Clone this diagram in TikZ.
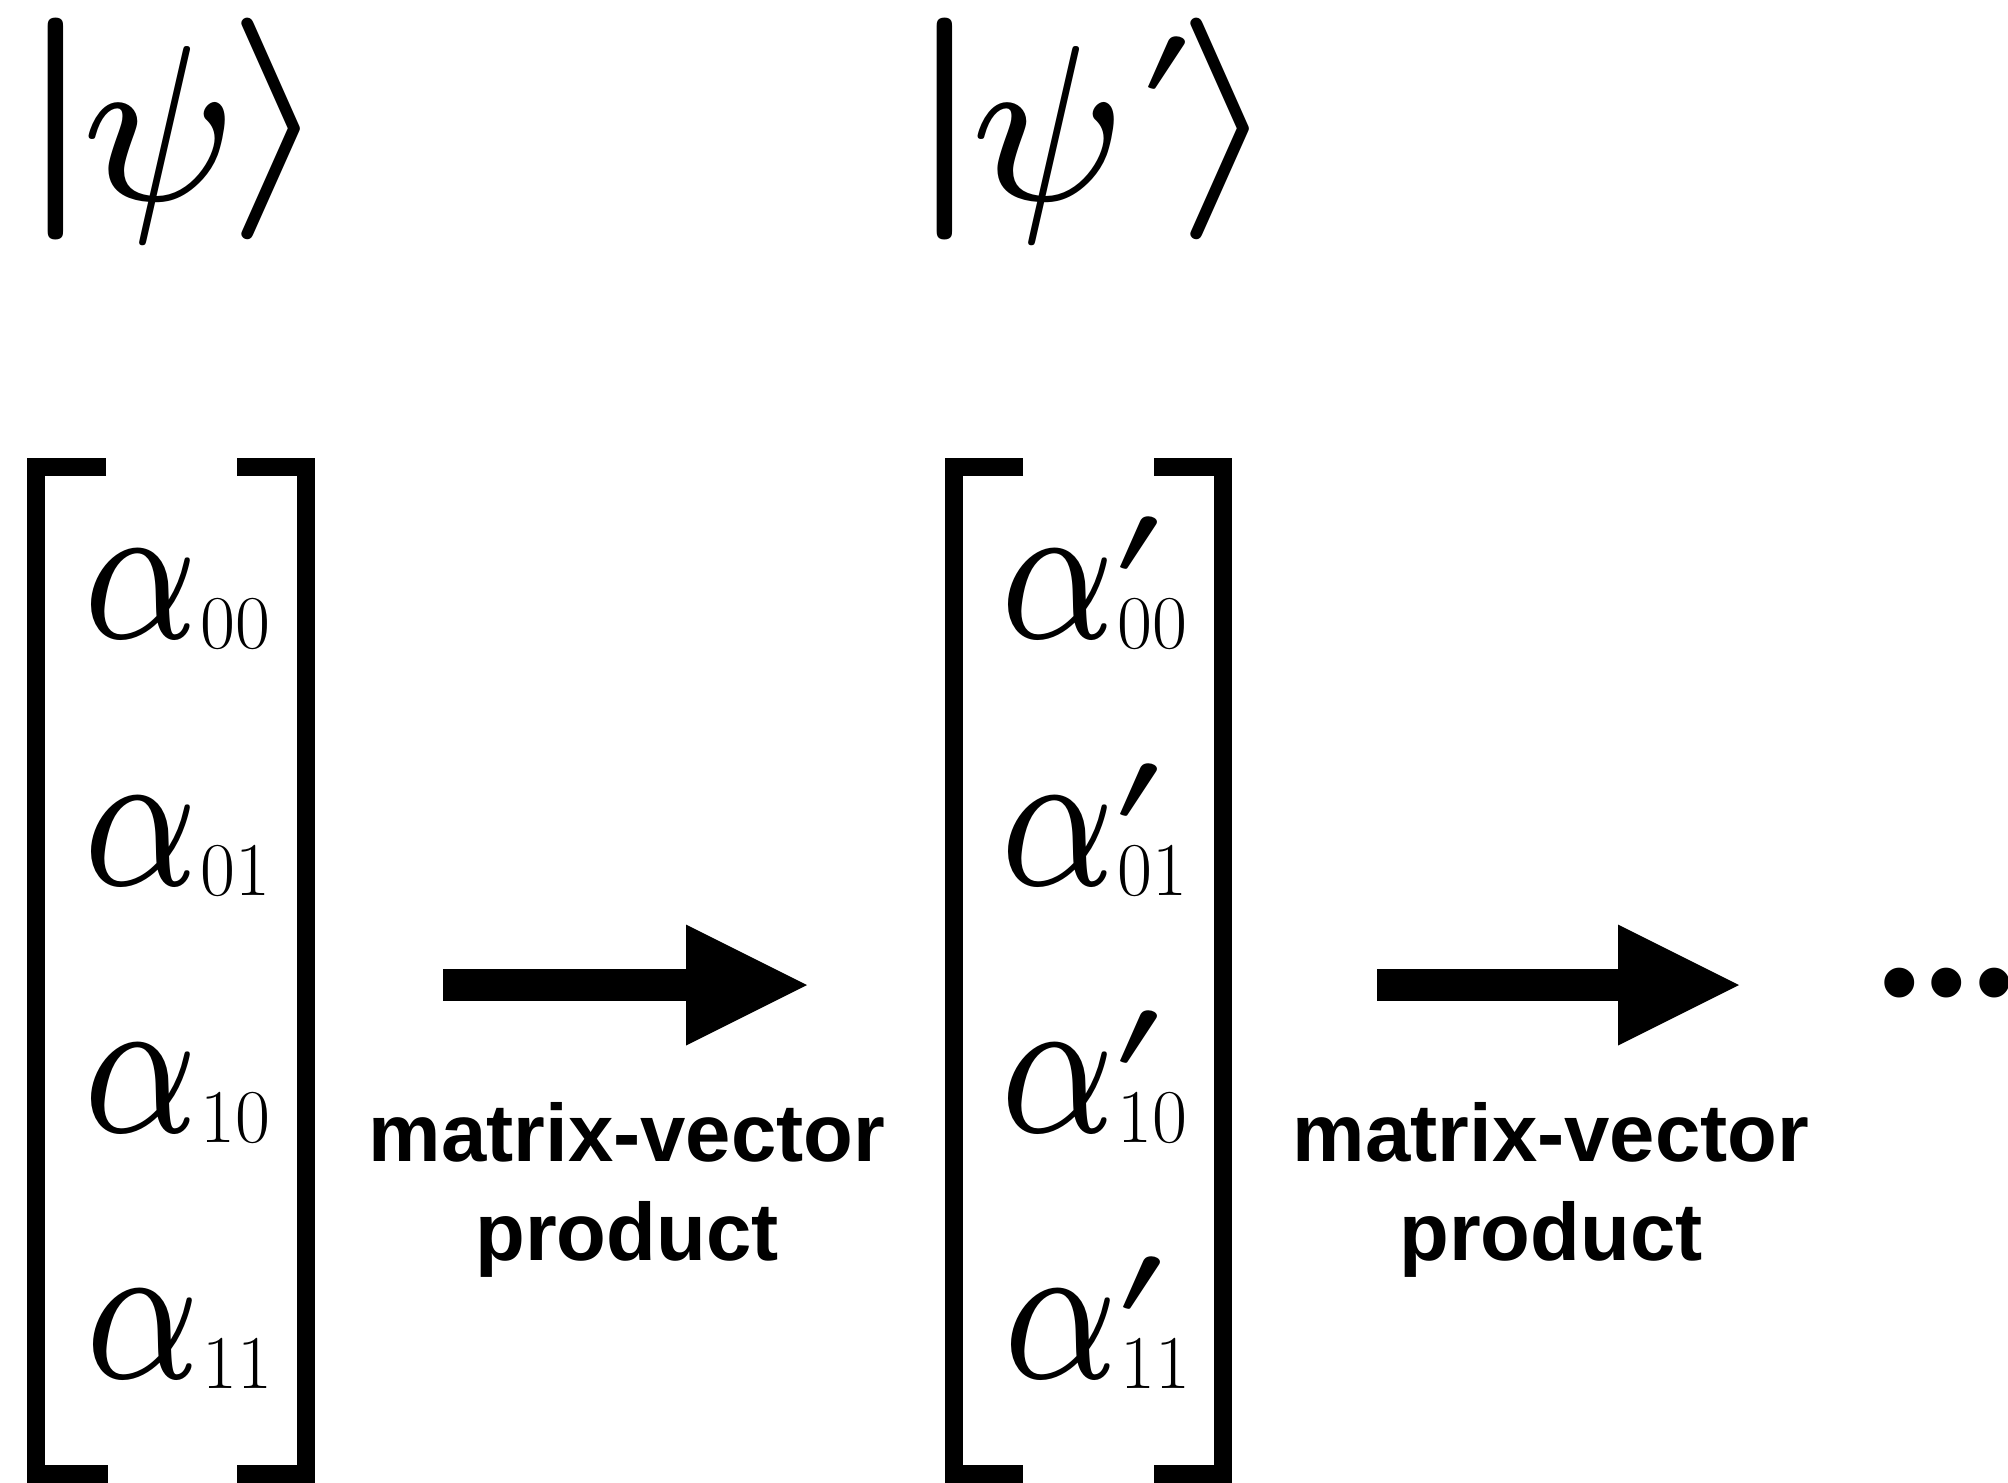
\documentclass[tikz,border=0pt]{standalone}
\usepackage{fontspec}
\usepackage{graphicx}
\newfontfamily\lsans{Liberation Sans}
\usetikzlibrary{arrows.meta}
% math glyph at 7pt design size, scaled (xs, ys)
\newcommand\M[3]{\scalebox{#1}[#2]{\fontsize{7}{8}\selectfont$#3$}}
\newcommand\asub{\fontsize{76}{76}\selectfont\rmfamily}
\newcommand\primesym{\M{21}{14.5}{\prime}}
\newcommand\alphasym{\M{23}{29.3}{\alpha}}
\newcommand\entA[1]{\alphasym\raisebox{-10pt}{\asub #1}}
\newcommand\entB[1]{\alphasym\rlap{\kern-4pt\raisebox{65pt}{\primesym}}\raisebox{-10pt}{\asub #1}}
\newcommand\kbar{\M{45}{31.7}{|}}
\newcommand\kpsi{\raisebox{-17pt}{\M{29}{31.7}{\psi}}}
\newcommand\kang{\M{34}{31.7}{\rangle}}
\begin{document}
\begin{tikzpicture}[x=1pt,y=-1pt,
  brk/.style={line width=18pt, line join=miter, line cap=butt},
  blockarrow/.style={line width=32pt, -{Triangle[length=121pt,width=121pt,line width=0pt]}},
  lbl/.style={font=\lsans\bfseries\fontsize{81.5}{99}\selectfont, align=center, inner sep=0pt},
  ent/.style={anchor=base west, inner sep=0pt},
]
\useasboundingbox (0,0) rectangle (2008,1483);
% kets
\node[ent] (ket1) at (2,184) {\kbar\kern-29.5pt\kpsi\kern-17pt\kang};
\node[ent] (ket2) at (891,184) {\kbar\kern-29.5pt\kpsi\kern12.5pt\raisebox{90pt}{\primesym}\kern-18pt\kang};
% brackets
\draw[brk] (106,467) -- (36,467) -- (36,1474) -- (108,1474);
\draw[brk] (237,467) -- (306,467) -- (306,1474) -- (237,1474);
\draw[brk] (1023,467) -- (954,467) -- (954,1474) -- (1023,1474);
\draw[brk] (1154,467) -- (1222.5,467) -- (1222.5,1474) -- (1154,1474);
% entries
\node[ent] (a00) at (81,638) {\entA{00}};
\node[ent] (a01) at (81,885) {\entA{01}};
\node[ent] (a10) at (81,1132) {\entA{10}};
\node[ent] (a11) at (83,1378) {\entA{11}};
\node[ent] (b00) at (998,638) {\entB{00}};
\node[ent] (b01) at (998,885) {\entB{01}};
\node[ent] (b10) at (998,1132) {\entB{10}};
\node[ent] (b11) at (1001,1378) {\entB{11}};
% arrows
\coordinate (a1s) at (443,985);
\coordinate (a1e) at (807,985);
\coordinate (a2s) at (1377,985);
\coordinate (a2e) at (1739,985);
\draw[blockarrow] (a1s) -- (a1e);
\draw[blockarrow] (a2s) -- (a2e);
% labels
\node[lbl, anchor=north] (l1) at (627,1102) {matrix-vector\\product};
\node[lbl, anchor=north] (l2) at (1551,1102) {matrix-vector\\product};
% dots
\node[anchor=base west, inner sep=0pt, font=\lsans\fontsize{110}{110}\selectfont] (dots) at (1880,1019) {•\kern9pt•\kern9pt•};
\end{tikzpicture}
\end{document}
